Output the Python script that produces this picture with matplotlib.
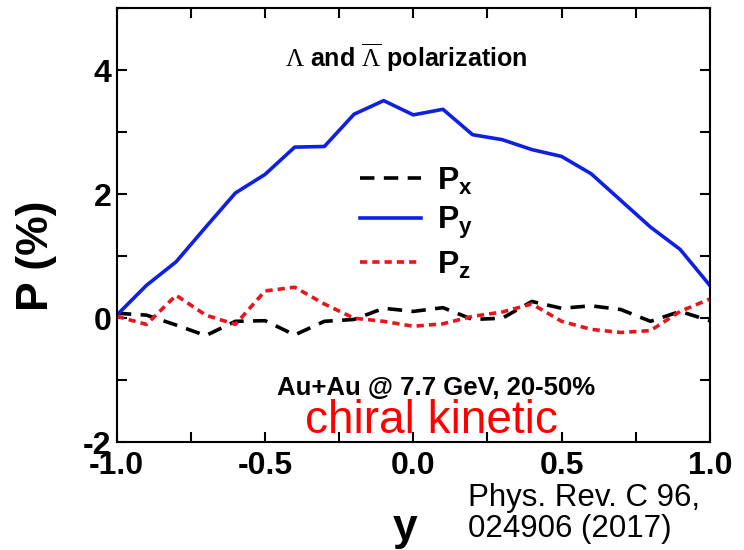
import numpy as np
import matplotlib.pyplot as plt
from matplotlib.ticker import MultipleLocator

plt.rcParams['font.family'] = ['Liberation Sans', 'DejaVu Sans']
plt.rcParams['axes.unicode_minus'] = False
plt.rcParams['mathtext.fontset'] = 'custom'
plt.rcParams['mathtext.rm'] = 'Liberation Serif'
plt.rcParams['mathtext.bf'] = 'Liberation Sans:bold'

# rapidity grid and polarization components (%)
y = [-1.0, -0.9, -0.8, -0.7, -0.6, -0.5, -0.4, -0.3, -0.2, -0.1, 0.0,
     0.1, 0.2, 0.3, 0.4, 0.5, 0.6, 0.7, 0.8, 0.9, 1.0]
px = [0.08, 0.05, -0.11, -0.28, -0.05, -0.04, -0.27, -0.05, -0.02, 0.16, 0.11,
      0.17, -0.02, 0.0, 0.27, 0.16, 0.20, 0.14, -0.05, 0.11, -0.04]
py = [0.05, 0.53, 0.91, 1.47, 2.02, 2.32, 2.76, 2.77, 3.29, 3.51, 3.28,
      3.37, 2.96, 2.88, 2.72, 2.61, 2.33, 1.90, 1.47, 1.11, 0.53]
pz = [0.03, -0.10, 0.37, 0.05, -0.10, 0.44, 0.50, 0.23, 0.0, -0.05, -0.13,
      -0.09, 0.03, 0.10, 0.23, -0.05, -0.18, -0.23, -0.20, 0.11, 0.31]

fig = plt.figure(figsize=(7.44, 5.50), dpi=100)
ax = fig.add_axes([0.157, 0.196, 0.797, 0.789])

ax.plot(y, px, color='black', lw=2.6, dashes=(4, 2.6), label=r'$\mathbf{P}_\mathbf{x}$')
ax.plot(y, py, color='#1020e0', lw=2.6, label=r'$\mathbf{P}_\mathbf{y}$')
ax.plot(y, pz, color='#e8141e', lw=2.6, dashes=(2, 1.4), label=r'$\mathbf{P}_\mathbf{z}$')

ax.set_xlim(-1.0, 1.0)
ax.set_ylim(-2, 5)
ax.xaxis.set_major_locator(MultipleLocator(0.5))
ax.xaxis.set_minor_locator(MultipleLocator(0.25))
ax.yaxis.set_minor_locator(MultipleLocator(1))
ax.set_yticks([-2, 0, 2, 4])
ax.tick_params(which='both', direction='in', top=True, right=True,
               length=7, width=1.5, labelsize=23)
ax.tick_params(axis='x', pad=6)
ax.tick_params(axis='y', pad=4)
for lab in ax.get_xticklabels() + ax.get_yticklabels():
    lab.set_fontweight('bold')
for s in ax.spines.values():
    s.set_linewidth(1.5)

ax.set_xlabel('y', fontsize=32, fontweight='bold')
ax.xaxis.set_label_coords(0.486, -0.152)
ax.set_ylabel('P (%)', fontsize=32, fontweight='bold')
ax.yaxis.set_label_coords(-0.101, 0.43)

leg = ax.legend(loc='center', bbox_to_anchor=(0.505, 0.505), frameon=False,
                fontsize=23, handlelength=1.9, labelspacing=0.25, handletextpad=0.5)

ax.text(0.488, 0.885, r'$\Lambda$ and $\overline{\Lambda}$ polarization',
        transform=ax.transAxes, ha='center', va='center',
        fontsize=18, fontweight='bold')
ax.text(0.538, 0.124, 'Au+Au @ 7.7 GeV, 20-50%', transform=ax.transAxes,
        ha='center', va='center', fontsize=18.5, fontweight='bold')
ax.text(0.531, 0.05, 'chiral kinetic', transform=ax.transAxes,
        ha='center', va='center', fontsize=33, color='red')

fig.text(0.629, 0.067, 'Phys. Rev. C 96,\n024906 (2017)', ha='left', va='center',
         fontsize=22.5, linespacing=1.05)

fig.savefig('out.png', dpi=100)
